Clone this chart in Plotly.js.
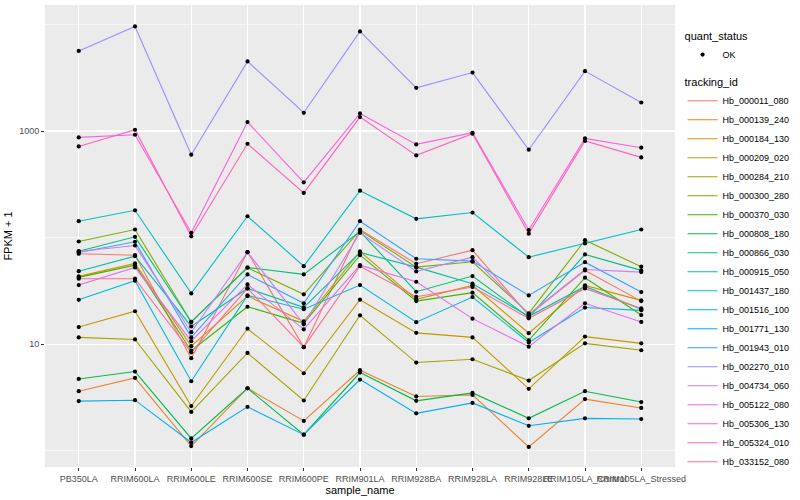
<!DOCTYPE html>
<html><head><meta charset="utf-8">
<script src="https://cdn.plot.ly/plotly-3.0.1.min.js"></script>
<style>html,body{margin:0;padding:0;background:#fff}#chart{width:800px;height:500px}</style>
</head><body><div id="chart"></div>
<script>
const samples = ["PB350LA","RRIM600LA","RRIM600LE","RRIM600SE","RRIM600PE","RRIM901LA","RRIM928BA","RRIM928LA","RRIM928LE","RRIM105LA_Control","RRIM105LA_Stressed"];
const trackingIds = ["Hb_000011_080","Hb_000139_240","Hb_000184_130","Hb_000209_020","Hb_000284_210","Hb_000300_280","Hb_000370_030","Hb_000808_180","Hb_000866_030","Hb_000915_050","Hb_001437_180","Hb_001516_100","Hb_001771_130","Hb_001943_010","Hb_002270_010","Hb_004734_060","Hb_005122_080","Hb_005306_130","Hb_005324_010","Hb_033152_080"];
const lineColors = ["#F8766D","#EA8331","#D89000","#C09B00","#A3A500","#7CAE00","#39B600","#00BB4E","#00BF7D","#00C1A3","#00BFC4","#00BAE0","#00B0F6","#35A2FF","#9590FF","#C77CFF","#E76BF3","#FA62DB","#FF62BC","#FF6C91"];

// FPKM + 1 per tracking_id, in sample order
const Hb_000011_080 = [70.6, 68.5, 7.4, 73.1, 9.4, 119.2, 56.9, 76.3, 18.7, 49.3, 25.4];
const Hb_000139_240 = [3.63, 4.84, 1.11, 3.87, 1.91, 5.71, 3.24, 3.35, 1.09, 3.06, 2.53];
const Hb_000184_130 = [43.3, 57.3, 9.6, 28.3, 16.4, 74.2, 26.4, 35.7, 12.7, 35.7, 25.8];
const Hb_000209_020 = [14.5, 20.4, 2.63, 14.0, 5.35, 26.2, 12.8, 11.6, 3.82, 11.8, 10.2];
const Hb_000284_210 = [11.6, 11.1, 2.32, 8.29, 2.97, 18.7, 6.74, 7.24, 4.57, 10.2, 8.79];
const Hb_000300_280 = [92.0, 119.2, 16.2, 52.2, 29.4, 116.7, 52.9, 59.4, 19.5, 94.6, 53.4];
const Hb_000370_030 = [42.4, 55.2, 8.7, 22.5, 15.7, 68.5, 25.4, 30.5, 10.9, 42.1, 18.8];
const Hb_000808_180 = [4.73, 5.55, 1.31, 3.87, 1.42, 5.43, 2.95, 3.50, 2.02, 3.63, 2.87];
const Hb_000866_030 = [74.7, 101.8, 16.2, 52.6, 45.2, 114.2, 31.1, 43.6, 17.9, 69.6, 49.3];
const Hb_000915_050 = [48.5, 67.1, 14.7, 33.4, 22.2, 72.6, 52.9, 37.0, 18.3, 34.9, 21.3];
const Hb_001437_180 = [142.6, 180.6, 30.0, 158.8, 54.0, 276, 150.1, 171.9, 65.6, 88.2, 119.2];
const Hb_001516_100 = [26.1, 39.5, 4.5, 28.7, 21.3, 35.9, 16.1, 27.7, 10.4, 22.1, 20.8];
const Hb_001771_130 = [2.93, 2.99, 1.20, 2.59, 1.42, 4.67, 2.25, 2.82, 1.72, 2.02, 1.99];
const Hb_001943_010 = [72.6, 91.5, 11.6, 45.2, 24.2, 142.6, 63.4, 60.2, 28.7, 58.9, 30.9];
const Hb_002270_010 = [5640, 9570, 600, 4500, 1483, 8590, 2543, 3535, 668, 3646, 1852];
const Hb_004734_060 = [74.2, 84.4, 13.0, 73.1, 15.4, 111.0, 48.2, 65.6, 19.1, 50.3, 47.5];
const Hb_005122_080 = [35.9, 52.6, 10.7, 36.4, 13.8, 55.2, 38.6, 17.4, 9.5, 24.2, 16.2];
const Hb_005306_130 = [871, 923, 111, 1214, 330, 1461, 749, 964, 118, 852, 698];
const Hb_005324_010 = [717, 1028, 103, 760, 263, 1352, 591, 943, 109, 806, 566];
const Hb_033152_080 = [41.2, 41.2, 8.4, 33.4, 9.4, 54.0, 27.9, 34.4, 17.5, 33.4, 21.7];

const seriesValues = [Hb_000011_080, Hb_000139_240, Hb_000184_130, Hb_000209_020, Hb_000284_210, Hb_000300_280, Hb_000370_030, Hb_000808_180, Hb_000866_030, Hb_000915_050, Hb_001437_180, Hb_001516_100, Hb_001771_130, Hb_001943_010, Hb_002270_010, Hb_004734_060, Hb_005122_080, Hb_005306_130, Hb_005324_010, Hb_033152_080];
const quantStatus = ["OK"];
const yTickVals = [10, 1000];
const yTickText = ["10", "1000"];
const yMinorVals = [1, 100, 10000];

const FONT = "Liberation Sans, Arial, sans-serif";
const traces = [];
trackingIds.forEach((id, i) => {
  traces.push({
    type: "scatter", mode: "lines", name: id, x: samples, y: seriesValues[i],
    line: {color: lineColors[i], width: 1.1}, legend: "legend", hoverinfo: "skip"
  });
});
const px = [], py = [];
seriesValues.forEach(v => v.forEach((val, j) => { px.push(samples[j]); py.push(val); }));
traces.push({
  type: "scatter", mode: "markers", name: quantStatus[0], x: px, y: py,
  marker: {color: "#000000", size: 4.2}, legend: "legend2"
});

const layout = {
  width: 800, height: 500,
  margin: {l: 45, r: 116, t: 5, b: 33},
  paper_bgcolor: "#FFFFFF", plot_bgcolor: "#EBEBEB",
  font: {family: FONT, size: 9, color: "#000000"},
  showlegend: true,
  xaxis: {
    type: "category", range: [-0.6, 10.6], categoryorder: "array", categoryarray: samples,
    showgrid: true, gridcolor: "#FFFFFF", gridwidth: 1.1, zeroline: false, showline: false,
    ticks: "outside", ticklen: 3, tickwidth: 1, tickcolor: "#333333", tickangle: 0,
    tickfont: {family: FONT, size: 9, color: "#4D4D4D"},
    title: {text: "sample_name", font: {family: FONT, size: 11, color: "#000000"}, standoff: 3},
    automargin: false
  },
  yaxis: {
    type: "log", range: [-0.151, 4.182],
    tickmode: "array", tickvals: yTickVals, ticktext: yTickText,
    showgrid: true, gridcolor: "#FFFFFF", gridwidth: 1.1, zeroline: false, showline: false,
    ticks: "outside", ticklen: 3, tickwidth: 1, tickcolor: "#333333",
    tickfont: {family: FONT, size: 9, color: "#4D4D4D"},
    minor: {tickmode: "array", tickvals: yMinorVals, showgrid: true, gridcolor: "#FFFFFF", gridwidth: 0.55, ticks: ""},
    title: {text: "FPKM + 1", font: {family: FONT, size: 11, color: "#000000"}, standoff: 4},
    automargin: false
  },
  legend2: {
    x: 1.012, xanchor: "left", y: 0.955, yanchor: "top",
    title: {text: "quant_status", font: {family: FONT, size: 11, color: "#000000"}},
    font: {family: FONT, size: 9, color: "#000000"}, itemwidth: 30, bgcolor: "rgba(0,0,0,0)"
  },
  legend: {
    x: 1.012, xanchor: "left", y: 0.855, yanchor: "top",
    title: {text: "tracking_id", font: {family: FONT, size: 11, color: "#000000"}},
    font: {family: FONT, size: 9, color: "#000000"}, itemwidth: 30, bgcolor: "rgba(0,0,0,0)",
    tracegroupgap: 0
  }
};

Plotly.newPlot("chart", traces, layout, {displayModeBar: false, staticPlot: true});
</script></body></html>
